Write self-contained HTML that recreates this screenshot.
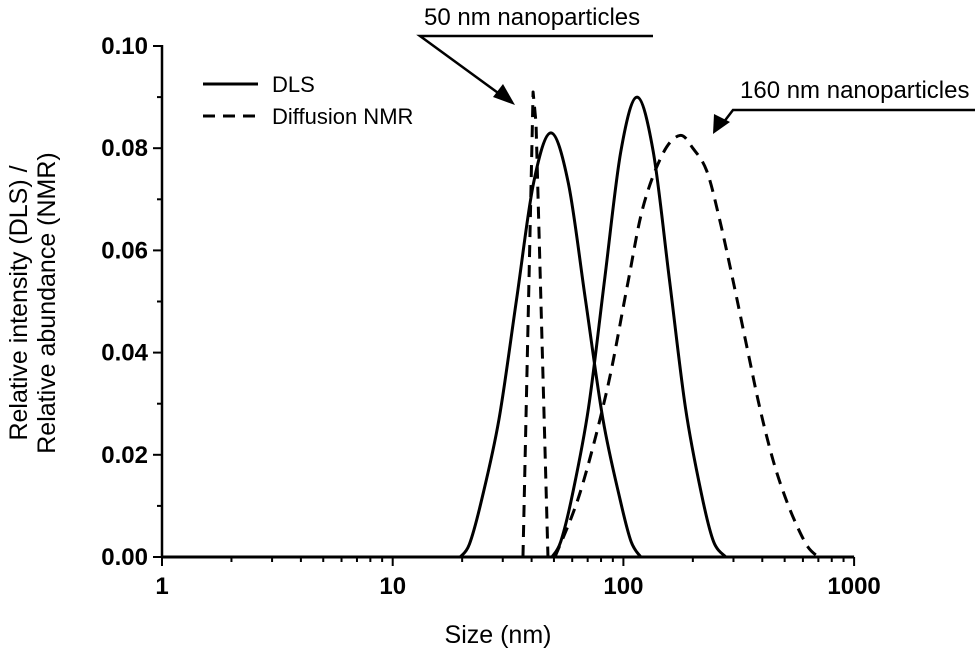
<!DOCTYPE html>
<html><head><meta charset="utf-8"><style>
body{margin:0;background:#fff}
svg text{font-family:"Liberation Sans",Arial,sans-serif;fill:#000}
</style></head><body>
<svg id="chart" width="980" height="658" viewBox="0 0 980 658" xmlns="http://www.w3.org/2000/svg">
<g id="axes"></g>
<g id="series"></g>
<g>
  <line x1="203" y1="84" x2="258" y2="84" stroke="#000" stroke-width="3"/>
  <text x="272" y="92" font-size="22">DLS</text>
  <line x1="203" y1="116" x2="258" y2="116" stroke="#000" stroke-width="3" stroke-dasharray="12,8"/>
  <text x="272" y="124" font-size="22">Diffusion NMR</text>
</g>
<g>
  <text x="424" y="25" font-size="24">50 nm nanoparticles</text>
  <polyline points="653,36 420,36 505,98" fill="none" stroke="#000" stroke-width="2.5"/>
  <polygon points="515,105 493,97 503,84" fill="#000"/>
</g>
<g>
  <text x="740" y="98" font-size="24">160 nm nanoparticles</text>
  <polyline points="975,110 733,110 720,127" fill="none" stroke="#000" stroke-width="2.5"/>
  <polygon points="713,134 714,114 730,122" fill="#000"/>
</g>
<text x="498" y="643" font-size="25" text-anchor="middle">Size (nm)</text>
<text transform="translate(27,303) rotate(-90)" font-size="25" text-anchor="middle"><tspan x="0" y="0">Relative intensity (DLS) /</tspan><tspan x="0" y="28">Relative abundance (NMR)</tspan></text>
</svg>
<script>
const xTicks=[1,10,100,1000];
const xTickLabels=["1","10","100","1000"];
const yTicks=[0,0.02,0.04,0.06,0.08,0.10];
const yTickLabels=["0.00","0.02","0.04","0.06","0.08","0.10"];
const dls1Size=[19.6,21.5,24.3,28.9,34.4,40.8,48.5,57.7,68.5,81.5,96.8,108,119];
const dls1Val=[0,0.0025,0.0112,0.0270,0.0503,0.0732,0.083,0.0732,0.0503,0.0270,0.0112,0.0030,0];
const dls2Size=[49,53.5,60.1,70.6,83.0,97.5,114.6,134.6,158.1,185.8,218.3,246,278];
const dls2Val=[0,0.0030,0.0122,0.0292,0.0545,0.0794,0.090,0.0794,0.0545,0.0292,0.0122,0.0030,0];
const nmr1Size=[36.7,40.6,41.8,47.1];
const nmr1Val=[0,0.091,0.085,0];
const nmr2Size=[50.5,64.8,84.9,103.7,121.7,148.5,176,200,230,262,299,343,391,445,500,560,630,700];
const nmr2Val=[0,0.0125,0.0327,0.0528,0.0685,0.0790,0.0825,0.0800,0.0755,0.0658,0.0540,0.0411,0.0290,0.0190,0.0120,0.0065,0.002,0];
const X0=162,DEC=230.7,Y0=557,YS=5110;
const xs=v=>X0+Math.log10(v)*DEC;
const ys=v=>Y0-v*YS;
const NS="http://www.w3.org/2000/svg";
function mk(tag,attrs,parent){const e=document.createElementNS(NS,tag);for(const k in attrs)e.setAttribute(k,attrs[k]);parent.appendChild(e);return e;}
const ax=document.getElementById('axes');
let l=mk('line',{x1:xs(1),y1:Y0,x2:xs(1000),y2:Y0,stroke:'#000','stroke-width':3},ax);


l=mk('line',{x1:X0,y1:Y0,x2:X0,y2:ys(0.1)-1,stroke:'#000','stroke-width':2.5},ax);


for(let d=0;d<3;d++){for(let m=2;m<10;m++){const x=xs(Math.pow(10,d)*m);
 const t=mk('line',{x1:x,y1:Y0,x2:x,y2:Y0+5,stroke:'#000','stroke-width':2},ax);
 
 }}
xTicks.forEach((v,i)=>{const x=xs(v);
 const t=mk('line',{x1:x,y1:Y0,x2:x,y2:Y0+9,stroke:'#000','stroke-width':2},ax);
 
 
 const tx=mk('text',{x:x,y:594,'font-size':24,'font-weight':'bold','text-anchor':'middle'},ax);
 tx.textContent=xTickLabels[i];
 
 });
yTicks.forEach((v,i)=>{const y=ys(v);
 const t=mk('line',{x1:X0-9,y1:y,x2:X0,y2:y,stroke:'#000','stroke-width':2},ax);
 
 
 const tx=mk('text',{x:148,y:y+8,'font-size':24,'font-weight':'bold','text-anchor':'end'},ax);
 tx.textContent=yTickLabels[i];
 
 
 if(i<yTicks.length-1){const ym=ys(v+0.01);
 const m=mk('line',{x1:X0-5,y1:ym,x2:X0,y2:ym,stroke:'#000','stroke-width':2},ax);
 
 }});
const sg=document.getElementById('series');
function path(sz,vals,dash,name,smooth){
 const pts=sz.map((s,i)=>[xs(s),ys(vals[i])]);
 let d='M'+pts[0][0]+','+pts[0][1];
 if(smooth){for(let i=0;i<pts.length-1;i++){const p0=pts[Math.max(0,i-1)],p1=pts[i],p2=pts[i+1],p3=pts[Math.min(pts.length-1,i+2)];
  const c1=[p1[0]+(p2[0]-p0[0])/6,Math.min(Y0,p1[1]+(p2[1]-p0[1])/6)],c2=[p2[0]-(p3[0]-p1[0])/6,Math.min(Y0,p2[1]-(p3[1]-p1[1])/6)];
  d+=' C'+c1+' '+c2+' '+p2;}}
 else pts.slice(1).forEach(p=>d+=' L'+p);
 const e=mk('path',{d:d,fill:'none',stroke:'#000','stroke-width':3,'stroke-dasharray':dash||'none','stroke-linejoin':'round'},sg);
 
 }
path(dls1Size,dls1Val,null,'dls-50nm-curve',true);
path(dls2Size,dls2Val,null,'dls-160nm-curve',true);
path(nmr1Size,nmr1Val,'12,8','nmr-50nm-curve',false);
path(nmr2Size,nmr2Val,'12,8','nmr-160nm-curve',true);
</script>
</body></html>
